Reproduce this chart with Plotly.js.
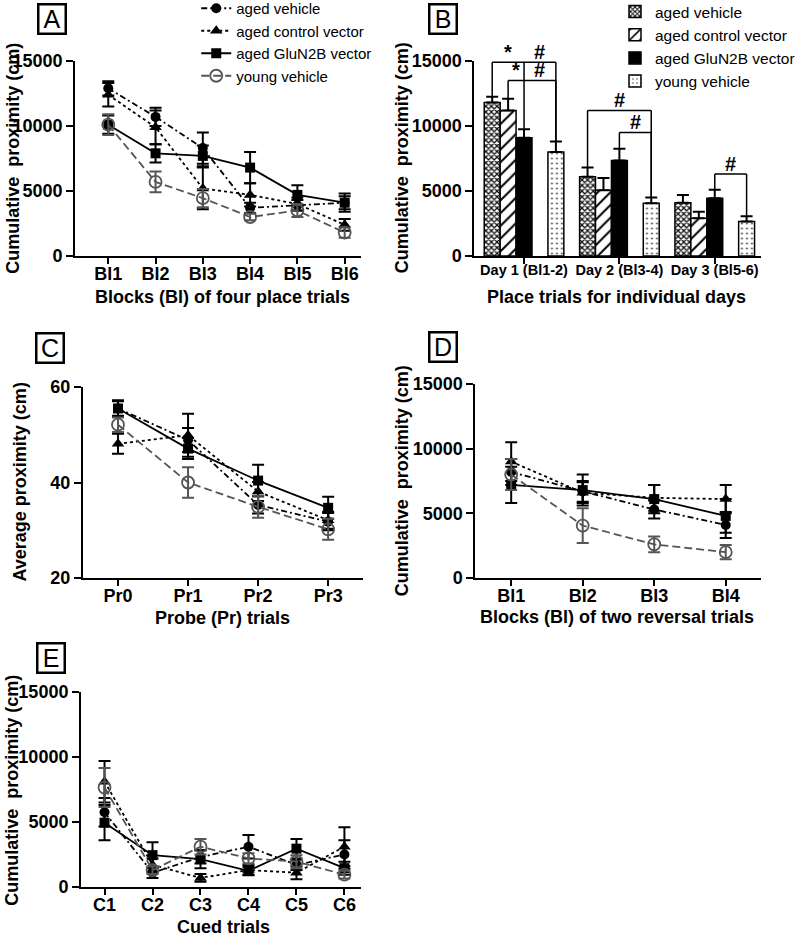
<!DOCTYPE html>
<html><head><meta charset="utf-8">
<script src="https://cdn.plot.ly/plotly-3.0.1.min.js"></script>
<style>html,body{margin:0;padding:0;background:#fff;overflow:hidden}#wrap{position:relative;width:800px;height:937px;overflow:hidden}#plot{position:absolute;left:0;top:-40px;width:800px;height:977px}</style>
</head><body><div id="wrap"><div id="plot"></div></div>
<script>
// ---------- DATA ----------
const seriesNames = ['aged vehicle','aged control vector','aged GluN2B vector','young vehicle'];

// Panel A: blocks of four place trials
const blocksA = ['Bl1','Bl2','Bl3','Bl4','Bl5','Bl6'];
const agedVehicleA = [12900, 10700, 8300, 3700, 3900, 4100];
const agedVehicleAErr = [550, 700, 1200, 400, 400, 500];
const agedControlA = [12400, 9900, 5200, 4700, 4000, 2400];
const agedControlAErr = [900, 1300, 1600, 900, 500, 450];
const gluN2BA = [10100, 7900, 7700, 6800, 4700, 4100];
const gluN2BAErr = [700, 700, 800, 1200, 750, 700];
const youngA = [10100, 5700, 4450, 3000, 3500, 1800];
const youngAErr = [800, 800, 700, 250, 500, 400];

// Panel B: place trials for individual days
const daysB = ['Day 1 (Bl1-2)','Day 2 (Bl3-4)','Day 3 (Bl5-6)'];
const agedVehicleB = [11800, 6100, 4100];
const agedVehicleBErr = [450, 700, 600];
const agedControlB = [11200, 5050, 2900];
const agedControlBErr = [900, 950, 500];
const gluN2BB = [9100, 7350, 4450];
const gluN2BBErr = [650, 900, 650];
const youngB = [8000, 4050, 2650];
const youngBErr = [800, 450, 400];
// significance brackets: [day index, from slot, to slot, bracket height]
const bracketsB = [[0,0,4,14900],[0,1,4,13500],[1,0,4,11200],[1,2,4,9500],[2,2,4,6300]];
const bracketLegsB = [[0,2,14900]]; // extra inner leg: [day, slot, from height]
const bracketMarksB = [[0,1,'*',14900],[0,3,'#',14900],[0,1.5,'*',13500],[0,3,'#',13500],[1,2,'#',11200],[1,3,'#',9500],[2,3,'#',6300]];

// Panel C: probe trials
const probesC = ['Pr0','Pr1','Pr2','Pr3'];
const agedVehicleC = [55.5, 48.9, 35.3, 31.8];
const agedVehicleCErr = [1.5, 2.5, 1.8, 1.8];
const agedControlC = [48.1, 49.9, 38.1, 32.1];
const agedControlCErr = [2.1, 4.5, 2.0, 1.8];
const gluN2BC = [55.5, 47.1, 40.4, 34.7];
const gluN2BCErr = [1.7, 2.2, 3.3, 2.3];
const youngC = [52.1, 40.0, 34.9, 30.2];
const youngCErr = [1.5, 3.2, 2.3, 2.2];

// Panel D: blocks of two reversal trials
const blocksD = ['Bl1','Bl2','Bl3','Bl4'];
const agedVehicleD = [8200, 6700, 5300, 4100];
const agedVehicleDErr = [1000, 800, 700, 1000];
const agedControlD = [9000, 6600, 6200, 6100];
const agedControlDErr = [1500, 800, 1000, 1100];
const gluN2BD = [7200, 6800, 6100, 4800];
const gluN2BDErr = [1400, 1200, 1100, 1300];
const youngD = [8000, 4050, 2600, 2000];
const youngDErr = [1200, 1350, 600, 550];

// Panel E: cued trials
const cuedE = ['C1','C2','C3','C4','C5','C6'];
const agedVehicleE = [5750, 1100, 2300, 3100, 1700, 2500];
const agedVehicleEErr = [1100, 400, 500, 900, 400, 1100];
const agedControlE = [8100, 1700, 700, 1300, 1100, 3100];
const agedControlEErr = [1600, 500, 300, 400, 500, 1500];
const gluN2BE = [4950, 2450, 2150, 1250, 2950, 1450];
const gluN2BEErr = [1350, 1000, 700, 300, 750, 500];
const youngE = [7650, 1300, 3100, 2200, 1950, 950];
const youngEErr = [1500, 300, 600, 400, 500, 300];

// ---------- STYLE ----------
const W = 800, OFF = 40, H = 937 + OFF;   // paper extends 40px above the visible window
const FONT = 'Liberation Sans, Arial, sans-serif';
const px = x => x / W, py = y => 1 - (y + OFF) / H;
const styles = [
  {color:'#000', dash:'6px,3px,2px,3px', symbol:'circle', size:10, lc:'#000'},
  {color:'#000', dash:'3px,3px', symbol:'triangle-up', size:11, lc:'#000'},
  {color:'#000', dash:'solid', symbol:'square', size:10, lc:'#000'},
  {color:'#555', dash:'8px,4px', symbol:'circle-open', size:12, lc:'#555'}
];

function lineTrace(i, cats, y, err, xa, ya, showlegend) {
  const s = styles[i];
  return {
    type:'scatter', mode:'lines+markers', name: seriesNames[i], x: cats, y: y,
    xaxis: xa, yaxis: ya, showlegend: showlegend, legend:'legend',
    line:{color:s.lc, width:1.8, dash:s.dash},
    marker:{symbol:s.symbol, size:s.size, color:s.color, line:{color:s.color, width: i===3?1.8:0}},
    error_y:{type:'data', array: err, visible:true, color:s.lc, thickness:2, width:6},
    cliponaxis:false
  };
}

const traces = [];
const panels = [
  {xa:'x', ya:'y', cats:blocksA, data:[[agedVehicleA,agedVehicleAErr],[agedControlA,agedControlAErr],[gluN2BA,gluN2BAErr],[youngA,youngAErr]], legend:true},
  {xa:'x3', ya:'y3', cats:probesC, data:[[agedVehicleC,agedVehicleCErr],[agedControlC,agedControlCErr],[gluN2BC,gluN2BCErr],[youngC,youngCErr]]},
  {xa:'x4', ya:'y4', cats:blocksD, data:[[agedVehicleD,agedVehicleDErr],[agedControlD,agedControlDErr],[gluN2BD,gluN2BDErr],[youngD,youngDErr]]},
  {xa:'x5', ya:'y5', cats:cuedE, data:[[agedVehicleE,agedVehicleEErr],[agedControlE,agedControlEErr],[gluN2BE,gluN2BEErr],[youngE,youngEErr]]}
];
panels.forEach(p => {
  p.data.forEach((d, i) => traces.push(lineTrace(i, p.cats, d[0], d[1], p.xa, p.ya, !!p.legend)));
});

// Panel B bars
const barGap = 0.165;
const patterns = [
  {shape:'x', size:4, solidity:0.55, fgcolor:'#111', bgcolor:'#fff'},
  {shape:'/', size:9, solidity:0.22, fgcolor:'#000', bgcolor:'#fff'},
  null,
  null,
  {shape:'.', size:5, solidity:0.1, fgcolor:'#333', bgcolor:'#fff'}
];
const barSeries = [[agedVehicleB, agedVehicleBErr, 0], [agedControlB, agedControlBErr, 1], [gluN2BB, gluN2BBErr, 2], [null, null, -1], [youngB, youngBErr, 3]];
barSeries.forEach((b, k) => {
  const tr = {
    type:'bar', x: daysB, xaxis:'x2', yaxis:'y2', legend:'legend2',
    marker:{color: k===2 ? '#000' : '#fff', line:{color:'#000', width:1.5}},
  };
  if (b[0]) {
    tr.y = b[0];
    tr.name = seriesNames[b[2]];
    tr.error_y = {type:'data', symmetric:false, array:b[1], arrayminus:b[1].map(()=>0), color:'#000', thickness:2, width:6};
    if (patterns[k]) tr.marker.pattern = patterns[k];
    tr.showlegend = true;
  } else {
    tr.y = daysB.map(()=>null);
    tr.name = '';
    tr.showlegend = false;
    tr.hoverinfo = 'skip';
  }
  traces.push(tr);
});

// bracket geometry derived from bar layout
const slotW = (1 - barGap) / 5;
const slotX = (day, slot) => day + (slot - 2) * slotW;
const barTop = (day, slot) => {
  const s = barSeries[slot];
  return s[0] ? s[0][day] + s[1][day] : 0;
};
const shapes = [];
const lineStyle = {color:'#000', width:1.5};
bracketsB.forEach(([d, a, b, h]) => {
  shapes.push({type:'line', xref:'x2', yref:'y2', x0:slotX(d,a), x1:slotX(d,a), y0:barTop(d,a), y1:h, line:lineStyle});
  shapes.push({type:'line', xref:'x2', yref:'y2', x0:slotX(d,a), x1:slotX(d,b), y0:h, y1:h, line:lineStyle});
  shapes.push({type:'line', xref:'x2', yref:'y2', x0:slotX(d,b), x1:slotX(d,b), y0:h, y1:barTop(d,b), line:lineStyle});
});
bracketLegsB.forEach(([d, s, h]) => {
  shapes.push({type:'line', xref:'x2', yref:'y2', x0:slotX(d,s), x1:slotX(d,s), y0:h, y1:barTop(d,s), line:lineStyle});
});

const annotations = [];
bracketMarksB.forEach(([d, s, t, h]) => {
  annotations.push({xref:'x2', yref:'y2', x:slotX(d,s), y:h, text:t, showarrow:false, yanchor:'bottom', yshift:-3,
    font:{family:FONT, size:20, weight:700, color:'#000'}});
});

// panel labels
[['A',53.5,19],['B',453.5,18.5],['C',51,348],['D',454,347],['E',52,658]].forEach(([t,x,y]) => {
  annotations.push({xref:'paper', yref:'paper', x:px(x), y:py(y), text:t, showarrow:false, xanchor:'center', yanchor:'middle',
    font:{family:FONT, size:25, color:'#000'}, bordercolor:'#000', borderwidth:2.5, borderpad:1, bgcolor:'#fff', width:23, height:25});
});

// axis titles
const titleFont = {family:FONT, size:18, weight:700, color:'#000'};
[
  ['Cumulative  proximity (cm)', 13, 158, -90],
  ['Blocks (Bl) of four place trials', 228, 297, 0],
  ['Cumulative  proximity (cm)', 412, 158, -90],
  ['Place trials for individual days', 632, 297, 0],
  ['Average proximity (cm)', 20, 482, -90],
  ['Probe (Pr) trials', 228, 618, 0],
  ['Cumulative  proximity (cm)', 412, 481, -90],
  ['Blocks (Bl) of two reversal trials', 632, 617, 0],
  ['Cumulative  proximity (cm)', 12, 790, -90],
  ['Cued trials', 229, 927, 0]
].forEach(([t,x,y,a]) => {
  annotations.push({xref:'paper', yref:'paper', x:px(x), y:py(y), text:t, textangle:a, showarrow:false,
    xanchor:'center', yanchor:'middle', font:titleFont});
});

const tickFont = {family:FONT, size:18, weight:700, color:'#000'};
function xax(dom, range, fontSize) {
  return {domain:dom, anchor:'', type:'category', range:range, showline:true, linecolor:'#000', linewidth:2,
    ticks:'outside', ticklen:6, tickwidth:2, tickcolor:'#000', showgrid:false, zeroline:false, ticklabelstandoff:-6,
    tickfont: fontSize ? Object.assign({}, tickFont, {size:fontSize}) : tickFont, fixedrange:true};
}
function yax(dom, range, dtick) {
  return {domain:dom, range:range, dtick:dtick, tick0:range[0], tickformat:'d', showline:true, linecolor:'#000', linewidth:2,
    ticks:'outside', ticklen:7, tickwidth:2, tickcolor:'#000', showgrid:false, zeroline:false,
    tickfont:tickFont, fixedrange:true};
}

const layout = {
  width:W, height:H, margin:{l:0,r:0,t:0,b:0}, paper_bgcolor:'#fff', plot_bgcolor:'rgba(0,0,0,0)',
  font:{family:FONT, color:'#000'}, showlegend:true, barmode:'group', bargap:barGap, bargroupgap:0,
  xaxis: Object.assign(xax([px(77), px(370)], [-0.7, 5.35]), {anchor:'y'}),
  yaxis: Object.assign(yax([py(256), py(61)], [0, 15000], 5000), {anchor:'x'}),
  xaxis2: Object.assign(xax([px(486), px(780)], [-0.52, 2.49], 14.5), {anchor:'y2'}),
  yaxis2: Object.assign(yax([py(256), py(61)], [0, 15000], 5000), {anchor:'x2'}),
  xaxis3: Object.assign(xax([px(85), px(372)], [-0.5, 3.5]), {anchor:'y3'}),
  yaxis3: Object.assign(yax([py(578), py(387)], [20, 60], 20), {anchor:'x3'}),
  xaxis4: Object.assign(xax([px(487), px(780)], [-0.5, 3.5]), {anchor:'y4'}),
  yaxis4: Object.assign(yax([py(578), py(384)], [0, 15000], 5000), {anchor:'x4'}),
  xaxis5: Object.assign(xax([px(83), px(370)], [-0.49, 5.35]), {anchor:'y5'}),
  yaxis5: Object.assign(yax([py(887), py(692)], [0, 15000], 5000), {anchor:'x5'}),
  legend:{x:px(201), y:py(-8), xanchor:'left', yanchor:'top', bgcolor:'rgba(0,0,0,0)',
    font:{family:FONT, size:15, color:'#000'}, tracegroupgap:0, itemwidth:30},
  legend2:{x:px(630), y:py(-5), xanchor:'left', yanchor:'top', bgcolor:'rgba(0,0,0,0)',
    font:{family:FONT, size:15.5, color:'#000'}, tracegroupgap:0, itemwidth:30},
  shapes:shapes, annotations:annotations
};

Plotly.newPlot('plot', traces, layout, {displayModeBar:false, staticPlot:true});
</script></body></html>
